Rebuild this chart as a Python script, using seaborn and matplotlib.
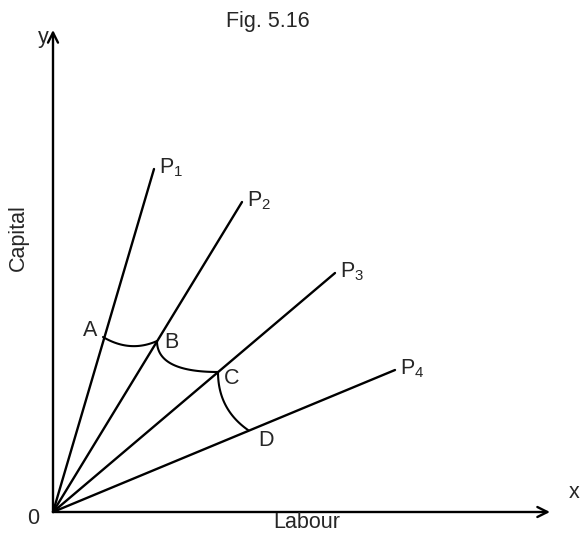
import numpy as np
import pandas as pd
import matplotlib
matplotlib.use("Agg")
import matplotlib.pyplot as plt
import seaborn as sns

sns.set_theme(style="white")
plt.rcParams['font.family'] = ['Liberation Sans', 'DejaVu Sans']
plt.rcParams['mathtext.default'] = 'regular'

# Rays from origin (process rays P1..P4), end points
ray_names = ["P1", "P2", "P3", "P4"]
ray_labels = ["P$_1$", "P$_2$", "P$_3$", "P$_4$"]
ray_end_x = [101, 189, 282, 342]
ray_end_y = [343, 310, 239, 142]

# Points on the rays (isoquant intersections)
pt_names = ["A", "B", "C", "D"]
pt_x = [50, 104, 165, 195]
pt_y = [175, 171, 140, 82]

# Control points of the isoquant arcs A-B, B-C, C-D
ctrl_x = [77, 104, 165]
ctrl_y = [159, 140, 103]

# build ray data
rows = []
for n, ex, ey in zip(ray_names, ray_end_x, ray_end_y):
    rows.append({"ray": n, "x": 0, "y": 0})
    rows.append({"ray": n, "x": ex, "y": ey})
rays = pd.DataFrame(rows)

# build arcs (quadratic Bezier)
t = np.linspace(0, 1, 60)
arc_rows = []
for i in range(3):
    p0 = np.array([pt_x[i], pt_y[i]])
    c = np.array([ctrl_x[i], ctrl_y[i]])
    p2 = np.array([pt_x[i + 1], pt_y[i + 1]])
    pts = ((1 - t) ** 2)[:, None] * p0 + (2 * (1 - t) * t)[:, None] * c + (t ** 2)[:, None] * p2
    for k, (xx, yy) in enumerate(pts):
        arc_rows.append({"arc": i, "x": xx, "y": yy, "k": k})
arcs = pd.DataFrame(arc_rows)

fig = plt.figure(figsize=(5.81, 5.33), dpi=100)
ax = fig.add_axes([0, 0, 1, 1])
ax.set_xlim(-53, 528)
ax.set_ylim(-21, 512)

sns.lineplot(data=rays, x="x", y="y", units="ray", estimator=None, sort=False,
             color="black", lw=1.7, ax=ax)
sns.lineplot(data=arcs, x="x", y="y", units="arc", estimator=None, sort=False,
             color="black", lw=1.5, ax=ax)

# axes with arrows
ax.annotate("", xy=(497, 0), xytext=(0, 0),
            arrowprops=dict(arrowstyle="->", lw=1.7, color="black", shrinkA=0, shrinkB=0,
                            mutation_scale=18))
ax.annotate("", xy=(0, 482), xytext=(0, 0),
            arrowprops=dict(arrowstyle="->", lw=1.7, color="black", shrinkA=0, shrinkB=0,
                            mutation_scale=18))

fs = 15.5
ax.text(215, 490, "Fig. 5.16", ha="center", va="center", fontsize=fs)
ax.text(-10, 474, "y", ha="center", va="center", fontsize=fs)
ax.text(516, 19, "x", ha="left", va="center", fontsize=fs)
ax.text(-20, -6, "0", ha="center", va="center", fontsize=fs)
ax.text(-35, 274, "Capital", ha="center", va="center", fontsize=fs, rotation=90)
ax.text(254, -11, "Labour", ha="center", va="center", fontsize=fs)

pt_lab_x = [37, 118, 179, 213]
pt_lab_y = [182, 169, 134, 72]
for n, lx, ly in zip(pt_names, pt_lab_x, pt_lab_y):
    ax.text(lx, ly, n, ha="center", va="center", fontsize=fs)

for lab, ex, ey in zip(ray_labels, ray_end_x, ray_end_y):
    ax.text(ex + 5, ey + 1, lab, ha="left", va="center", fontsize=fs)

ax.set_axis_off()
ax.set_xlabel("")
ax.set_ylabel("")
fig.savefig("out.png", dpi=100)
